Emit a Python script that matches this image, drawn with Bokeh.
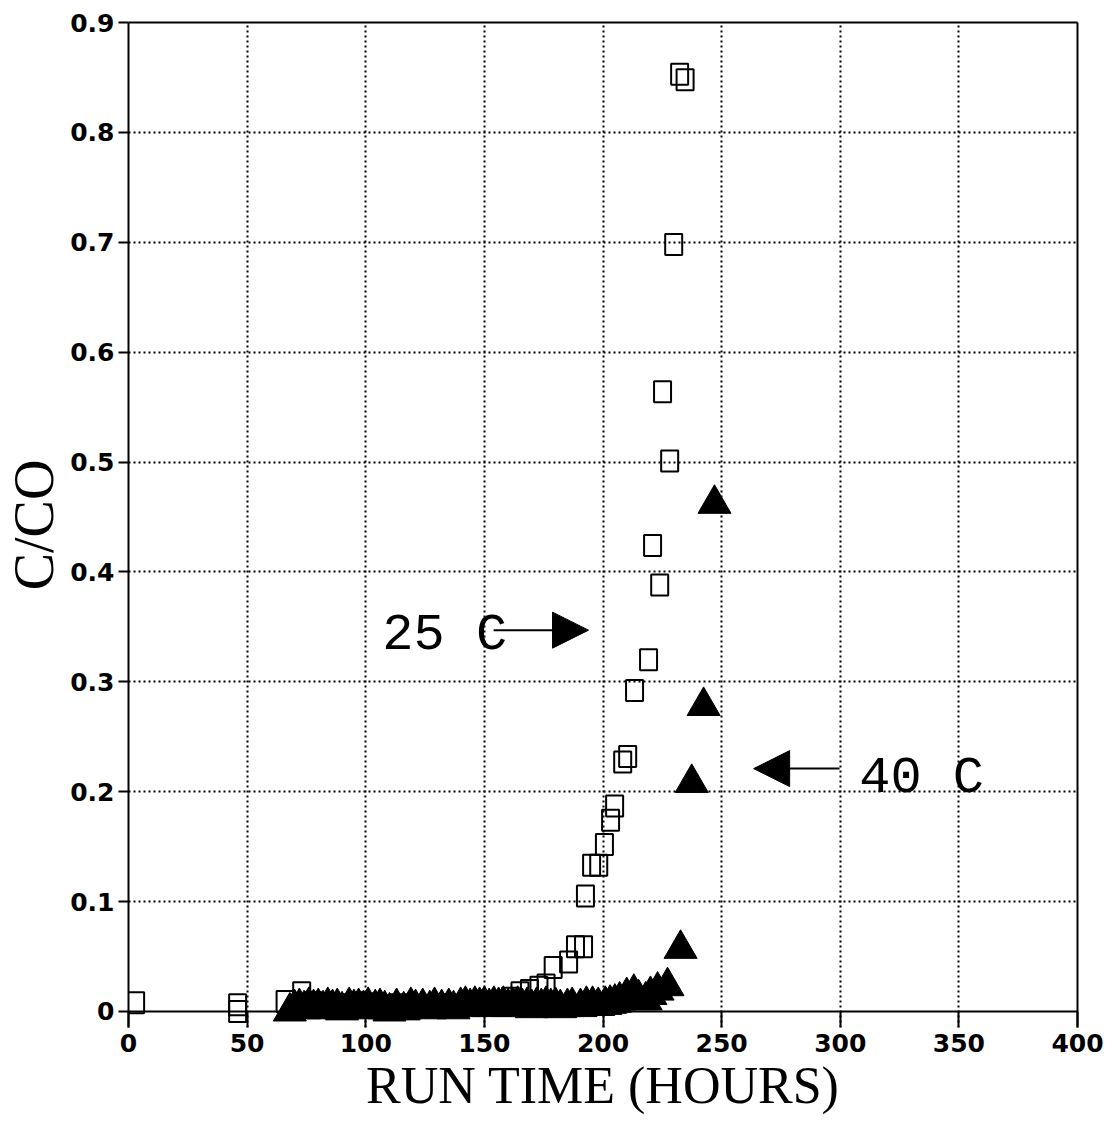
from bokeh.plotting import figure
from bokeh.models import Range1d, FixedTicker, LinearAxis, Span, Arrow, NormalHead, Label
from bokeh.embed import file_html
from bokeh.resources import INLINE

# 25 C series (open squares)
x25 = [3, 46, 46, 66, 73, 78, 84, 90, 96, 102, 108, 114, 120, 126, 132, 138, 144, 150, 156,
       161, 165, 169, 173, 176, 179, 185.5, 188.4, 191.8, 192.6, 195.2, 198.2, 200.6, 203.2,
       204.9, 208.3, 210.4, 213.3, 219.2, 220.9, 223.9, 225.1, 228.1, 229.8, 232.3, 234.6]
y25 = [0.008, 0.006, 0.0, 0.009, 0.017, 0.008, 0.007, 0.006, 0.008, 0.007, 0.005, 0.006,
       0.004, 0.005, 0.006, 0.005, 0.007, 0.008, 0.009, 0.012, 0.017, 0.019, 0.022, 0.024,
       0.040, 0.045, 0.059, 0.059, 0.105, 0.133, 0.133, 0.152, 0.174, 0.187, 0.227, 0.232,
       0.292, 0.320, 0.424, 0.388, 0.564, 0.501, 0.698, 0.853, 0.848]

# 40 C series (filled triangles)
x40 = [68, 70, 72, 74, 76, 78, 80, 82, 84, 86, 88, 90, 93, 95, 97, 99, 101, 104, 106, 108,
       110, 113, 116, 119, 121, 124, 127, 129, 132, 135, 137, 140, 142, 144, 146, 148, 150,
       152, 154, 156, 158, 160, 162, 164, 166, 168, 170, 172, 174, 176, 178, 180, 182, 185,
       187, 190.5, 193, 195.6, 198, 201, 203, 205, 207, 210, 213, 215, 218, 220, 223, 227.2,
       232.7, 237.4, 242.4, 247]
y40 = [0.000, 0.003, 0.004, 0.002, 0.005, 0.003, 0.004, 0.002, 0.005, 0.003, 0.004, 0.001,
       0.005, 0.003, 0.004, 0.002, 0.005, 0.003, 0.004, 0.002, 0.000, 0.004, 0.001, 0.005,
       0.003, 0.004, 0.002, 0.005, 0.003, 0.004, 0.002, 0.005, 0.006, 0.004, 0.006, 0.005,
       0.006, 0.004, 0.006, 0.005, 0.006, 0.004, 0.005, 0.006, 0.004, 0.005, 0.003, 0.005,
       0.004, 0.006, 0.004, 0.005, 0.003, 0.004, 0.005, 0.004, 0.006, 0.006, 0.005, 0.006,
       0.007, 0.008, 0.010, 0.014, 0.017, 0.012, 0.010, 0.015, 0.019, 0.023, 0.057, 0.208,
       0.278, 0.462]

x_ticks = [0, 50, 100, 150, 200, 250, 300, 350, 400]
y_ticks = [0, 0.1, 0.2, 0.3, 0.4, 0.5, 0.6, 0.7, 0.8, 0.9]

p = figure(width=1112, height=1132, output_backend="svg", toolbar_location=None,
           x_range=Range1d(0, 400), y_range=Range1d(-0.0146, 0.9),
           min_border_left=128, min_border_right=35, min_border_top=22, min_border_bottom=105)
p.outline_line_color = None
p.background_fill_color = "white"
p.border_fill_color = "white"

tick_font = "DejaVu Sans"
# bottom axis
xa = p.xaxis[0]
xa.ticker = FixedTicker(ticks=x_ticks)
xa.axis_line_color = None
xa.major_tick_in = 16
xa.major_tick_out = 0
xa.minor_tick_line_color = None
xa.major_tick_line_width = 2
xa.major_tick_line_color = "black"
xa.major_label_text_font = tick_font
xa.major_label_text_font_size = "25px"
xa.major_label_text_font_style = "bold"
xa.major_label_text_color = "black"
xa.major_label_standoff = 6
xa.axis_label = "RUN TIME (HOURS)"
xa.axis_label_text_font = "Liberation Serif"
xa.axis_label_text_font_size = "52px"
xa.axis_label_text_font_style = "normal"
xa.axis_label_text_color = "black"
xa.axis_label_standoff = 2

# left axis
ya = p.yaxis[0]
ya.ticker = FixedTicker(ticks=y_ticks)
ya.axis_line_width = 2
ya.axis_line_color = "black"
ya.major_tick_in = 0
ya.major_tick_out = 10
ya.minor_tick_line_color = None
ya.major_tick_line_width = 2
ya.major_tick_line_color = "black"
ya.major_label_text_font = tick_font
ya.major_label_text_font_size = "25px"
ya.major_label_text_font_style = "bold"
ya.major_label_text_color = "black"
ya.major_label_standoff = 4
ya.major_label_overrides = {0: "0"}
ya.axis_label = "C/CO"
ya.axis_label_text_font = "Liberation Serif"
ya.axis_label_text_font_size = "56px"
ya.axis_label_text_font_style = "normal"
ya.axis_label_text_color = "black"
ya.axis_label_standoff = 2

# right and top frame lines
for loc in ("right", "above"):
    ax = LinearAxis(ticker=FixedTicker(ticks=[]), major_tick_in=0, major_tick_out=0,
                    minor_tick_in=0, minor_tick_out=0, major_label_text_font_size="0px",
                    axis_line_width=2, axis_line_color="black")
    p.add_layout(ax, loc)

# grid
p.xgrid.ticker = FixedTicker(ticks=x_ticks[1:-1])
p.xgrid.bounds = (0, 0.9)
p.ygrid.ticker = FixedTicker(ticks=y_ticks[1:-1])
for g in (p.xgrid[0], p.ygrid[0]):
    g.grid_line_color = "black"
    g.grid_line_dash = "2 3"
    g.grid_line_width = 2
    g.grid_line_alpha = 1.0

# zero line
p.add_layout(Span(location=0, dimension="width", line_color="black", line_width=2))

# data
p.rect(x=x25, y=y25, width=17, height=21, width_units="screen", height_units="screen",
       fill_color=None, line_color="black", line_width=2)
p.scatter(x=x40, y=y40, marker="triangle", size=33, fill_color="black", line_color="black")

# annotations
p.add_layout(Label(x=107, y=0.342, text="25 C", text_font="Liberation Mono",
                   text_font_size="52px", text_baseline="middle", text_color="black"))
p.add_layout(Arrow(end=NormalHead(size=36, fill_color="black", line_color="black"),
                   x_start=153.9, y_start=0.347, x_end=193.9, y_end=0.347,
                   line_width=2, line_color="black"))
p.add_layout(Label(x=308, y=0.212, text="40 C", text_font="Liberation Mono",
                   text_font_size="52px", text_baseline="middle", text_color="black"))
p.add_layout(Arrow(end=NormalHead(size=36, fill_color="black", line_color="black"),
                   x_start=299.7, y_start=0.221, x_end=263.5, y_end=0.221,
                   line_width=2, line_color="black"))

open("out.html", "w").write(file_html(p, INLINE))
